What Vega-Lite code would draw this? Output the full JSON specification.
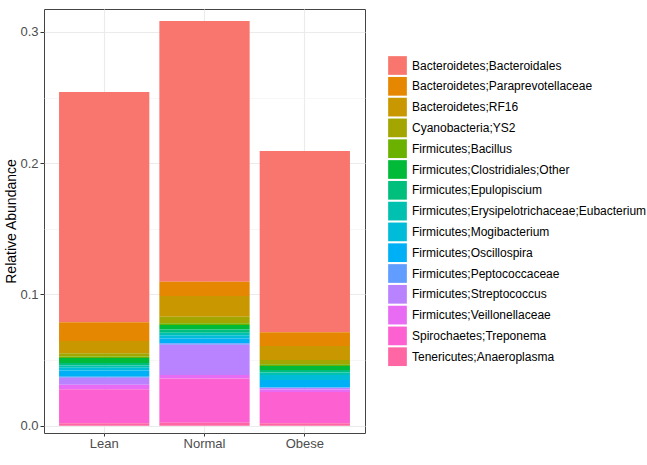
{
  "$schema": "https://vega.github.io/schema/vega-lite/v6.json",
  "width": 321,
  "height": 424,
  "autosize": "none",
  "padding": {"left": 44, "top": 9, "right": 282, "bottom": 32},
  "background": "white",
  "config": {
    "font": "Liberation Sans",
    "view": {"stroke": "#444444", "strokeWidth": 1},
    "axisX": {"title": null, "labelAngle": 0, "labelAlign": "center", "grid": true, "bandPosition": 0.5, "gridColor": "#EBEBEB", "gridWidth": 1.1,
              "domain": false, "tickColor": "#333333", "tickSize": 3, "labelColor": "#4D4D4D", "labelFontSize": 13, "labelPadding": 1}
  },
  "data": {
    "values": [
      {"Group": "Lean", "Taxon": "Bacteroidetes;Bacteroidales", "Abundance": 0.1754},
      {"Group": "Lean", "Taxon": "Bacteroidetes;Paraprevotellaceae", "Abundance": 0.0142},
      {"Group": "Lean", "Taxon": "Bacteroidetes;RF16", "Abundance": 0.0094},
      {"Group": "Lean", "Taxon": "Cyanobacteria;YS2", "Abundance": 0.0024},
      {"Group": "Lean", "Taxon": "Firmicutes;Bacillus", "Abundance": 0.0011},
      {"Group": "Lean", "Taxon": "Firmicutes;Clostridiales;Other", "Abundance": 0.0038},
      {"Group": "Lean", "Taxon": "Firmicutes;Epulopiscium", "Abundance": 0.002},
      {"Group": "Lean", "Taxon": "Firmicutes;Erysipelotrichaceae;Eubacterium", "Abundance": 0.0018},
      {"Group": "Lean", "Taxon": "Firmicutes;Mogibacterium", "Abundance": 0.002},
      {"Group": "Lean", "Taxon": "Firmicutes;Oscillospira", "Abundance": 0.0048},
      {"Group": "Lean", "Taxon": "Firmicutes;Peptococcaceae", "Abundance": 0.0008},
      {"Group": "Lean", "Taxon": "Firmicutes;Streptococcus", "Abundance": 0.0053},
      {"Group": "Lean", "Taxon": "Firmicutes;Veillonellaceae", "Abundance": 0.0033},
      {"Group": "Lean", "Taxon": "Spirochaetes;Treponema", "Abundance": 0.0259},
      {"Group": "Lean", "Taxon": "Tenericutes;Anaeroplasma", "Abundance": 0.002},
      {"Group": "Normal", "Taxon": "Bacteroidetes;Bacteroidales", "Abundance": 0.1985},
      {"Group": "Normal", "Taxon": "Bacteroidetes;Paraprevotellaceae", "Abundance": 0.0109},
      {"Group": "Normal", "Taxon": "Bacteroidetes;RF16", "Abundance": 0.0158},
      {"Group": "Normal", "Taxon": "Cyanobacteria;YS2", "Abundance": 0.005},
      {"Group": "Normal", "Taxon": "Firmicutes;Bacillus", "Abundance": 0.0013},
      {"Group": "Normal", "Taxon": "Firmicutes;Clostridiales;Other", "Abundance": 0.0033},
      {"Group": "Normal", "Taxon": "Firmicutes;Epulopiscium", "Abundance": 0.0026},
      {"Group": "Normal", "Taxon": "Firmicutes;Erysipelotrichaceae;Eubacterium", "Abundance": 0.0018},
      {"Group": "Normal", "Taxon": "Firmicutes;Mogibacterium", "Abundance": 0.0025},
      {"Group": "Normal", "Taxon": "Firmicutes;Oscillospira", "Abundance": 0.0036},
      {"Group": "Normal", "Taxon": "Firmicutes;Peptococcaceae", "Abundance": 0.0011},
      {"Group": "Normal", "Taxon": "Firmicutes;Streptococcus", "Abundance": 0.0232},
      {"Group": "Normal", "Taxon": "Firmicutes;Veillonellaceae", "Abundance": 0.0025},
      {"Group": "Normal", "Taxon": "Spirochaetes;Treponema", "Abundance": 0.0338},
      {"Group": "Normal", "Taxon": "Tenericutes;Anaeroplasma", "Abundance": 0.0023},
      {"Group": "Obese", "Taxon": "Bacteroidetes;Bacteroidales", "Abundance": 0.1381},
      {"Group": "Obese", "Taxon": "Bacteroidetes;Paraprevotellaceae", "Abundance": 0.0104},
      {"Group": "Obese", "Taxon": "Bacteroidetes;RF16", "Abundance": 0.0107},
      {"Group": "Obese", "Taxon": "Cyanobacteria;YS2", "Abundance": 0.0033},
      {"Group": "Obese", "Taxon": "Firmicutes;Bacillus", "Abundance": 0.0013},
      {"Group": "Obese", "Taxon": "Firmicutes;Clostridiales;Other", "Abundance": 0.003},
      {"Group": "Obese", "Taxon": "Firmicutes;Epulopiscium", "Abundance": 0.002},
      {"Group": "Obese", "Taxon": "Firmicutes;Erysipelotrichaceae;Eubacterium", "Abundance": 0.0018},
      {"Group": "Obese", "Taxon": "Firmicutes;Mogibacterium", "Abundance": 0.0038},
      {"Group": "Obese", "Taxon": "Firmicutes;Oscillospira", "Abundance": 0.0057},
      {"Group": "Obese", "Taxon": "Firmicutes;Peptococcaceae", "Abundance": 0.0005},
      {"Group": "Obese", "Taxon": "Firmicutes;Streptococcus", "Abundance": 0.0011},
      {"Group": "Obese", "Taxon": "Firmicutes;Veillonellaceae", "Abundance": 0.0019},
      {"Group": "Obese", "Taxon": "Spirochaetes;Treponema", "Abundance": 0.0238},
      {"Group": "Obese", "Taxon": "Tenericutes;Anaeroplasma", "Abundance": 0.0019}
    ]
  },
  "resolve": {"axis": {"y": "independent"}},
  "layer": [
    {
      "mark": {"type": "bar", "opacity": 0},
      "encoding": {
        "x": {"field": "Group", "type": "nominal", "scale": {"paddingInner": 0.1, "paddingOuter": 0.15}},
        "y": {
          "aggregate": "sum", "field": "Abundance", "type": "quantitative",
          "axis": {"orient": "right", "values": [0.05, 0.15, 0.25], "grid": true, "gridColor": "#F2F2F2", "gridWidth": 0.6,
                   "labels": false, "ticks": false, "domain": false, "title": null}
        }
      }
    },
    {
      "mark": {"type": "bar"},
      "encoding": {
        "x": {"field": "Group", "type": "nominal", "scale": {"paddingInner": 0.1, "paddingOuter": 0.15}},
        "y": {
          "aggregate": "sum", "field": "Abundance", "type": "quantitative",
          "scale": {"domain": [-0.0055, 0.3174], "nice": false, "zero": false},
          "axis": {"values": [0, 0.1, 0.2, 0.3], "format": ".1f", "grid": true, "gridColor": "#EBEBEB", "gridWidth": 1.1,
                   "domain": false, "tickColor": "#333333", "tickSize": 4, "labelColor": "#4D4D4D", "labelFontSize": 13, "labelPadding": 2,
                   "title": "Relative Abundance", "titleFontSize": 14, "titleFontWeight": "normal", "titleColor": "#000000", "titlePadding": 1}
        },
        "color": {
          "field": "Taxon", "type": "nominal",
          "scale": {
            "domain": ["Bacteroidetes;Bacteroidales", "Bacteroidetes;Paraprevotellaceae", "Bacteroidetes;RF16", "Cyanobacteria;YS2", "Firmicutes;Bacillus", "Firmicutes;Clostridiales;Other", "Firmicutes;Epulopiscium", "Firmicutes;Erysipelotrichaceae;Eubacterium", "Firmicutes;Mogibacterium", "Firmicutes;Oscillospira", "Firmicutes;Peptococcaceae", "Firmicutes;Streptococcus", "Firmicutes;Veillonellaceae", "Spirochaetes;Treponema", "Tenericutes;Anaeroplasma"],
            "range": ["#F8766D", "#E58700", "#C99800", "#A3A500", "#6BB100", "#00BA38", "#00BF7D", "#00C0AF", "#00BCD8", "#00B0F6", "#619CFF", "#B983FF", "#E76BF3", "#FD61D1", "#FF67A4"]
          },
          "legend": {"title": null, "orient": "none", "legendX": 344, "legendY": 47, "symbolType": "square", "symbolSize": 350,
                     "symbolStrokeWidth": 0, "symbolOpacity": 1, "labelFontSize": 12, "labelColor": "#000000", "rowPadding": 1.8, "labelOffset": 5, "labelLimit": 300}
        },
        "order": {"field": "Taxon", "sort": "descending"}
      }
    }
  ]
}
